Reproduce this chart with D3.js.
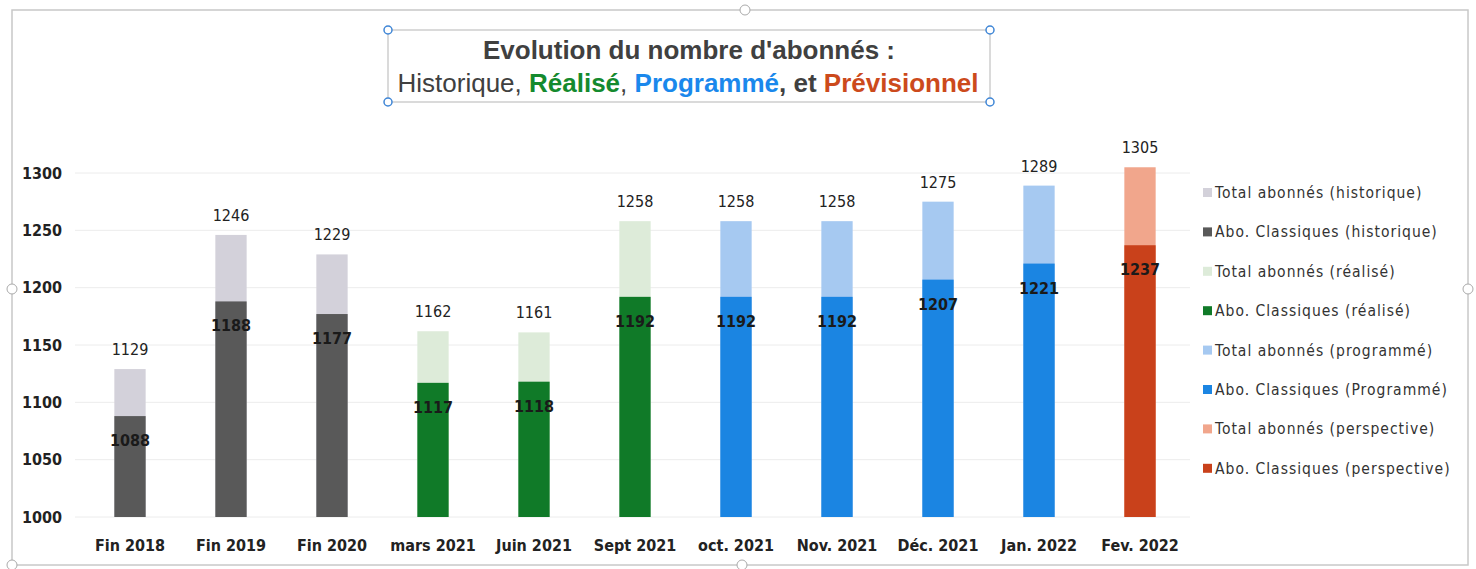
<!DOCTYPE html>
<html>
<head>
<meta charset="utf-8">
<script src="https://cdn.jsdelivr.net/npm/d3@7"></script>
<style>
  body { margin: 0; background: #fff; }
  text { font-family: "Liberation Sans Narrow", "DejaVu Sans Condensed", "Liberation Sans", sans-serif; }
</style>
</head>
<body>
<svg id="svg" width="1476" height="569"></svg>
<script>
// data
var categories = ["Fin 2018", "Fin 2019", "Fin 2020", "mars 2021", "Juin 2021", "Sept 2021",
                  "oct. 2021", "Nov. 2021", "Déc. 2021", "Jan. 2022", "Fev. 2022"];
var totalAbonnes = [1129, 1246, 1229, 1162, 1161, 1258, 1258, 1258, 1275, 1289, 1305];
var aboClassiques = [1088, 1188, 1177, 1117, 1118, 1192, 1192, 1192, 1207, 1221, 1237];
var phase = ["hist", "hist", "hist", "real", "real", "real", "prog", "prog", "prog", "prog", "prev"];
var yTicks = [1000, 1050, 1100, 1150, 1200, 1250, 1300];
var legendLabels = ["Total abonnés (historique)", "Abo. Classiques (historique)",
                    "Total abonnés (réalisé)", "Abo. Classiques (réalisé)",
                    "Total abonnés (programmé)", "Abo. Classiques (Programmé)",
                    "Total abonnés (perspective)", "Abo. Classiques (perspective)"];

var lightColor = { hist: "#d3d1da", real: "#ddebd9", prog: "#a6c9f1", prev: "#f1a68c" };
var darkColor = { hist: "#595959", real: "#107a28", prog: "#1b85e2", prev: "#c9411b" };
var legendColors = [lightColor.hist, darkColor.hist, lightColor.real, darkColor.real,
                    lightColor.prog, darkColor.prog, lightColor.prev, darkColor.prev];

var svg = d3.select("svg");

// outer frame of the chart object
svg.append("rect")
    .attr("x", 12).attr("y", 10).attr("width", 1456).attr("height", 555)
    .attr("fill", "none").attr("stroke", "#c8c8c8").attr("stroke-width", 1.5);
[[745, 10], [12, 289], [1468, 289], [742, 565], [12, 565]].forEach(function (p) {
    svg.append("circle").attr("cx", p[0]).attr("cy", p[1]).attr("r", 5)
        .attr("fill", "#fff").attr("stroke", "#aaa");
});

// title box
svg.append("rect")
    .attr("x", 388).attr("y", 30).attr("width", 602).attr("height", 72)
    .attr("fill", "none").attr("stroke", "#b5b5b5");
[[388, 30], [990, 30], [388, 102], [990, 102]].forEach(function (p) {
    svg.append("circle").attr("cx", p[0]).attr("cy", p[1]).attr("r", 4)
        .attr("fill", "#fff").attr("stroke", "#3f86d6").attr("stroke-width", 1.5);
});

svg.append("text")
    .attr("x", 689).attr("y", 59)
    .attr("text-anchor", "middle")
    .style("font-family", "'Liberation Sans', Arial, sans-serif")
    .attr("font-size", 26).attr("font-weight", "bold").attr("fill", "#404040")
    .text("Evolution du nombre d'abonnés :");

var t2 = svg.append("text")
    .attr("x", 688).attr("y", 92)
    .attr("text-anchor", "middle")
    .style("font-family", "'Liberation Sans', Arial, sans-serif")
    .attr("font-size", 26);
t2.append("tspan").attr("fill", "#404040").text("Historique, ");
t2.append("tspan").attr("fill", "#148a2e").attr("font-weight", "bold").text("Réalisé");
t2.append("tspan").attr("fill", "#404040").text(", ");
t2.append("tspan").attr("fill", "#1a88ec").attr("font-weight", "bold").text("Programmé");
t2.append("tspan").attr("fill", "#404040").attr("font-weight", "bold").text(", et ");
t2.append("tspan").attr("fill", "#cc4a1c").attr("font-weight", "bold").text("Prévisionnel");

// scales
var yScale = d3.scaleLinear().domain([1000, 1300]).range([517, 173]);
var xScale = d3.scaleBand().domain(categories).range([80, 1190]).paddingInner(0.69).paddingOuter(0.34);

// grid
svg.append("g").selectAll("line")
    .data(yTicks)
    .enter().append("line")
    .attr("x1", 75).attr("x2", 1190)
    .attr("y1", function (d) { return yScale(d); })
    .attr("y2", function (d) { return yScale(d); })
    .attr("stroke", "#ececec");

// y axis labels
var yAxis = d3.axisLeft(yScale).tickValues(yTicks).tickFormat(d3.format("d")).tickSize(0).tickPadding(0);
var yg = svg.append("g").attr("transform", "translate(62,0)").call(yAxis);
yg.select(".domain").remove();
yg.selectAll("text")
    .attr("font-size", 16).attr("font-weight", "bold").attr("fill", "#222")
    .style("font-family", "'Liberation Sans Narrow', 'DejaVu Sans Condensed', sans-serif");

// x axis labels
var xAxis = d3.axisBottom(xScale).tickSize(0).tickPadding(0);
var xg = svg.append("g").attr("transform", "translate(0,540)").call(xAxis);
xg.select(".domain").remove();
xg.selectAll("text")
    .attr("font-size", 16).attr("font-weight", "bold").attr("fill", "#222")
    .style("font-family", "'Liberation Sans Narrow', 'DejaVu Sans Condensed', sans-serif");

// bars: total behind, classiques in front
var idx = d3.range(categories.length);
var bars = svg.append("g");
bars.selectAll(".total")
    .data(idx).enter().append("rect")
    .attr("class", "total")
    .attr("x", function (i) { return xScale(categories[i]); })
    .attr("width", xScale.bandwidth())
    .attr("y", function (i) { return yScale(totalAbonnes[i]); })
    .attr("height", function (i) { return yScale(1000) - yScale(totalAbonnes[i]); })
    .attr("fill", function (i) { return lightColor[phase[i]]; });

bars.selectAll(".classic")
    .data(idx).enter().append("rect")
    .attr("class", "classic")
    .attr("x", function (i) { return xScale(categories[i]); })
    .attr("width", xScale.bandwidth())
    .attr("y", function (i) { return yScale(aboClassiques[i]); })
    .attr("height", function (i) { return yScale(1000) - yScale(aboClassiques[i]); })
    .attr("fill", function (i) { return darkColor[phase[i]]; });

// data labels
bars.selectAll(".totalLabel")
    .data(idx).enter().append("text")
    .attr("x", function (i) { return xScale(categories[i]) + xScale.bandwidth() / 2; })
    .attr("y", function (i) { return yScale(totalAbonnes[i]) - 14; })
    .attr("text-anchor", "middle")
    .attr("font-size", 16).attr("fill", "#222")
    .text(function (i) { return totalAbonnes[i]; });

bars.selectAll(".classicLabel")
    .data(idx).enter().append("text")
    .attr("x", function (i) { return xScale(categories[i]) + xScale.bandwidth() / 2; })
    .attr("y", function (i) { return yScale(aboClassiques[i]) + 30; })
    .attr("text-anchor", "middle")
    .attr("font-size", 16).attr("font-weight", "bold").attr("fill", "#1a1a1a")
    .text(function (i) { return aboClassiques[i]; });

// legend
var legend = svg.append("g").selectAll("g")
    .data(legendLabels).enter().append("g")
    .attr("transform", function (d, i) { return "translate(1203," + (193 + i * 39.4) + ")"; });
legend.append("rect")
    .attr("x", 0).attr("y", -5).attr("width", 9).attr("height", 9)
    .attr("fill", function (d, i) { return legendColors[i]; });
legend.append("text")
    .attr("x", 12).attr("y", 5)
    .attr("font-size", 15.5).attr("fill", "#333")
    .attr("letter-spacing", 1)
    .text(function (d) { return d; });
</script>
</body>
</html>
